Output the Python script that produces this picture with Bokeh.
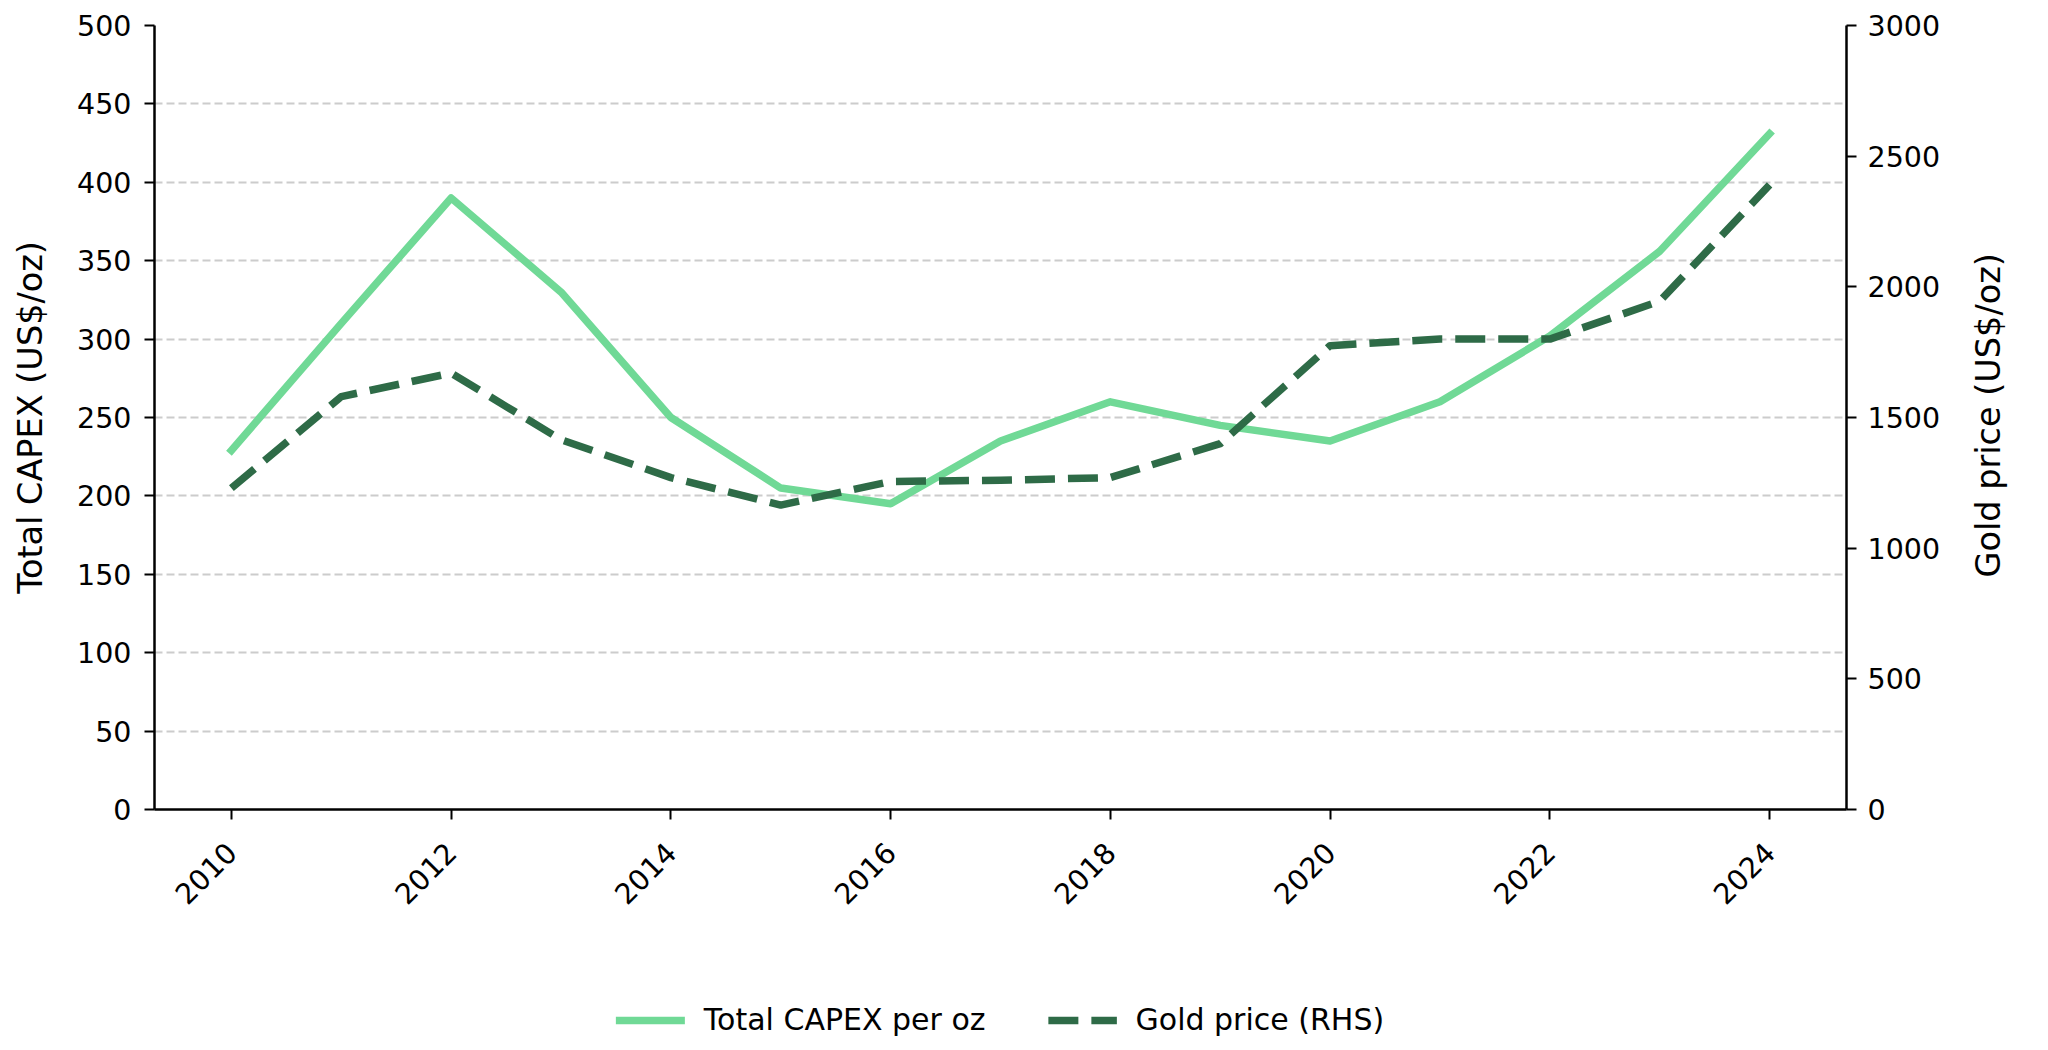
import math
from bokeh.plotting import figure
from bokeh.layouts import column
from bokeh.models import (LinearAxis, Range1d, FixedTicker, Legend, LegendItem,
                          ColumnDataSource)
from bokeh.embed import file_html
from bokeh.resources import INLINE

# ---- data ----
years = list(range(2010, 2025))
capex = [229, 310, 390, 330, 250, 205, 195, 235, 260, 245, 235, 260, 302, 356, 431]
gold = [1230, 1580, 1670, 1415, 1270, 1165, 1255, 1260, 1270, 1400, 1775, 1800, 1800, 1945, 2390]
x_ticks = years[::2]
left_ticks = list(range(0, 501, 50))
right_ticks = list(range(0, 3001, 500))
series_labels = ["Total CAPEX per oz", "Gold price (RHS)"]
left_title = "Total CAPEX (US$/oz)"
right_title = "Gold price (US$/oz)"

FONT = "DejaVu Sans"
LIGHT = "#70D996"
DARK = "#2E6B47"
RIGHT_TITLE_START = 888   # where the rotated right-axis title starts (gold units)

src = ColumnDataSource(dict(year=years, capex=capex, gold=gold))

p = figure(width=2040, height=960,
           min_border_left=154, min_border_right=194,
           min_border_top=25, min_border_bottom=151,
           x_range=Range1d(2009.3, 2024.7), y_range=Range1d(0, 500),
           output_backend="svg", toolbar_location=None)
p.extra_y_ranges = {"gold": Range1d(0, 3000)}
p.outline_line_color = None
p.background_fill_color = "white"
p.border_fill_color = "white"

# grid
p.xgrid.grid_line_color = None
p.ygrid.grid_line_color = "#cccccc"
p.ygrid.grid_line_width = 2
p.ygrid.grid_line_dash = "8 4"
p.ygrid.ticker = FixedTicker(ticks=left_ticks)

def style_axis(ax):
    ax.axis_line_color = "black"
    ax.axis_line_width = 2.5
    ax.major_tick_line_color = "black"
    ax.major_tick_line_width = 2
    ax.major_tick_out = 10
    ax.major_tick_in = 0
    ax.minor_tick_line_color = None
    ax.major_label_text_font = FONT
    ax.major_label_text_font_size = "28.5px"
    ax.major_label_text_color = "black"
    ax.axis_label_text_font = FONT
    ax.axis_label_text_font_size = "33.5px"
    ax.axis_label_text_font_style = "normal"
    ax.axis_label_text_color = "black"

xa = p.xaxis[0]
style_axis(xa)
xa.ticker = FixedTicker(ticks=x_ticks)
xa.major_label_orientation = math.pi / 4
xa.major_label_standoff = 28

ya = p.yaxis[0]
style_axis(ya)
ya.ticker = FixedTicker(ticks=left_ticks)
ya.axis_label = left_title
ya.major_label_standoff = 13
ya.axis_label_standoff = 24

# right axis: line, ticks and tick labels
ra = LinearAxis(y_range_name="gold", ticker=FixedTicker(ticks=right_ticks))
style_axis(ra)
ra.major_label_standoff = 11
p.add_layout(ra, "right")

# right axis title, reading bottom-to-top like the reference
ra_title = LinearAxis(y_range_name="gold",
                      ticker=FixedTicker(ticks=[RIGHT_TITLE_START]),
                      major_label_overrides={RIGHT_TITLE_START: right_title})
style_axis(ra_title)
ra_title.axis_line_color = None
ra_title.major_tick_line_color = None
ra_title.major_tick_out = 0
ra_title.major_label_text_font_size = "33.5px"
ra_title.major_label_orientation = math.pi / 2
ra_title.major_label_standoff = 45
p.add_layout(ra_title, "right")

r1 = p.line(x="year", y="capex", source=src, line_color=LIGHT, line_width=7.5,
            line_join="round", line_cap="square")
r2 = p.line(x="year", y="gold", source=src, y_range_name="gold", line_color=DARK,
            line_width=7.5, line_dash="30 13", line_join="round")

# ---- legend strip below the chart ----
# the strip's ranges keep its copies of the series out of view; only the
# legend (which needs renderers of its own plot) is visible there
q = figure(width=2040, height=82, x_range=Range1d(0, 1), y_range=Range1d(0, 1),
           x_axis_type=None, y_axis_type=None,
           min_border_left=0, min_border_right=45, min_border_top=0, min_border_bottom=0,
           output_backend="svg", toolbar_location=None)
q.outline_line_color = None
q.background_fill_color = "white"
q.border_fill_color = "white"
k1 = q.line(x="year", y="capex", source=src, line_color=LIGHT, line_width=7.5,
            line_cap="square")
k2 = q.line(x="year", y="gold", source=src, line_color=DARK, line_width=7.5,
            line_dash="30 13")

legend = Legend(items=[LegendItem(label=series_labels[0], renderers=[k1]),
                       LegendItem(label=series_labels[1], renderers=[k2])],
                orientation="horizontal", location="bottom_center",
                padding=0, margin=5, spacing=62,
                glyph_width=69, glyph_height=30, label_height=30,
                label_standoff=19,
                label_text_font=FONT, label_text_font_size="30px",
                label_text_color="black",
                border_line_color=None, background_fill_alpha=0)
q.add_layout(legend)

open("out.html", "w").write(file_html(column(p, q), INLINE))
